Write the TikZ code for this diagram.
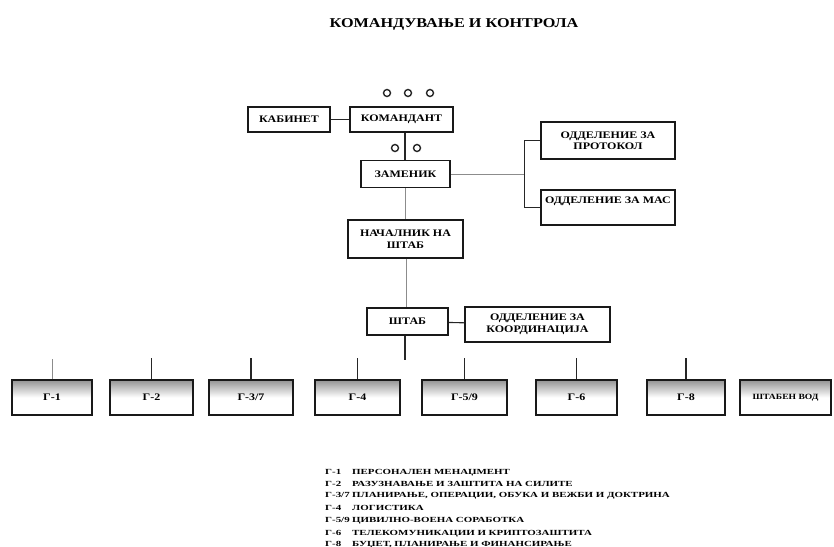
\documentclass[tikz,border=0pt]{standalone}
\usepackage{fontspec}
\setmainfont{Liberation Serif}
\newfontfamily\wideserif[FakeStretch=1.2]{Liberation Serif}
\newfontfamily\legserif[FakeStretch=1.4]{Liberation Serif}
\begin{document}
\begin{tikzpicture}[x=1pt,y=-1pt,
  box/.style={draw=black!90, line width=1.6pt, fill=white, inner sep=1pt,
    align=center, font=\wideserif\fontsize{10}{11.5}\selectfont\bfseries},
  gbox/.style={box, top color=black!42, bottom color=white, middle color=white,
    minimum height=35pt},
  link/.style={draw=black!85, line width=1.1pt},
  thinlink/.style={draw=black!45, line width=0.6pt},
  rank/.style={draw=black!85, line width=1.4pt, fill=white, circle, inner sep=0pt,
    minimum size=7pt},
  legend/.style={anchor=base west, inner sep=0pt, font=\legserif\fontsize{7.8}{9}\selectfont\bfseries}
]
\useasboundingbox (0,0) rectangle (834,546);

% title
\node[font=\wideserif\fontsize{13.5}{15}\selectfont\bfseries] (title) at (454,24) {КОМАНДУВАЊЕ И КОНТРОЛА};

% command group
\node[box, minimum width=82pt, minimum height=25pt] (kab) at (289,119.5) {КАБИНЕТ};
\node[box, minimum width=103pt, minimum height=25pt] (kom) at (401.5,119.5) {КОМАНДАНТ};
\node[box, minimum width=89pt, minimum height=27pt] (zam) at (405.5,174) {ЗАМЕНИК};
\node[box, minimum width=134pt, minimum height=37pt] (prot) at (608,140.5) {ОДДЕЛЕНИЕ ЗА\\ПРОТОКОЛ};
\node[box, minimum width=134pt, minimum height=35pt] (mas) at (608,207.5) {ОДДЕЛЕНИЕ ЗА МАС\\[3pt]};
\node[box, minimum width=115pt, minimum height=38pt] (nach) at (405.5,239) {НАЧАЛНИК НА\\ШТАБ};
\node[box, minimum width=81pt, minimum height=27pt] (shtab) at (407.5,321.5) {ШТАБ};
\node[box, minimum width=145pt, minimum height=35pt] (koord) at (537.5,324.5) {ОДДЕЛЕНИЕ ЗА\\КООРДИНАЦИЈА};

% rank marks
\node[rank] (s1) at (387,93) {};
\node[rank] (s2) at (408,93) {};
\node[rank] (s3) at (430,93) {};
\node[rank] (d1) at (395,148) {};
\node[rank] (d2) at (417,148) {};

% connectors in the command group
\draw[link] (kab) -- (kom);
\draw[link] (kom.south -| 405,0) -- (zam.north -| 405,0);
\coordinate (br) at (525,174);
\draw[thinlink] (zam.east) -- (br);
\draw[link] (prot.west) -- ++(-16,0) |- (mas.west);
\draw[thinlink] (zam.south -| 405,0) -- (nach.north -| 405,0);
\draw[thinlink] (nach.south -| 406,0) -- (shtab.north -| 406,0);
\draw[link] (shtab) -- (koord);
\coordinate (stem) at (405,360);
\draw[link] (shtab.south -| stem) -- (stem);

% staff sections
\node[gbox, minimum width=80pt] (g1) at (52,397.5) {Г-1};
\node[gbox, minimum width=83pt] (g2) at (151.5,397.5) {Г-2};
\node[gbox, minimum width=84pt] (g37) at (251,397.5) {Г-3/7};
\node[gbox, minimum width=85pt] (g4) at (357.5,397.5) {Г-4};
\node[gbox, minimum width=85pt] (g59) at (464.5,397.5) {Г-5/9};
\node[gbox, minimum width=81pt] (g6) at (576.5,397.5) {Г-6};
\node[gbox, minimum width=78pt] (g8) at (686,397.5) {Г-8};
\node[gbox, minimum width=91pt, font=\wideserif\fontsize{8}{9}\selectfont\bfseries] (vod) at (785.5,397.5) {ШТАБЕН ВОД};

% short drops above the sections
\draw[thinlink] (g1.north) -- ++(0,-20);
\foreach \g in {g2,g37,g4,g59,g6,g8}
  \draw[link] (\g.north) -- ++(0,-21);

% legend
\foreach \y/\c/\t in {
  474/{Г-1}/ПЕРСОНАЛЕН МЕНАЏМЕНТ,
  486/{Г-2}/РАЗУЗНАВАЊЕ И ЗАШТИТА НА СИЛИТЕ,
  497/{Г-3/7}/ПЛАНИРАЊЕ{,} ОПЕРАЦИИ{,} ОБУКА И ВЕЖБИ И ДОКТРИНА,
  510/{Г-4}/ЛОГИСТИКА,
  522/{Г-5/9}/ЦИВИЛНО-ВОЕНА СОРАБОТКА,
  535/{Г-6}/ТЕЛЕКОМУНИКАЦИИ И КРИПТОЗАШТИТА,
  546/{Г-8}/БУЏЕТ{,} ПЛАНИРАЊЕ И ФИНАНСИРАЊЕ}
  \node[legend] (leg\y) at (325,\y) {\makebox[27pt][l]{\c}\t};
\end{tikzpicture}
\end{document}
